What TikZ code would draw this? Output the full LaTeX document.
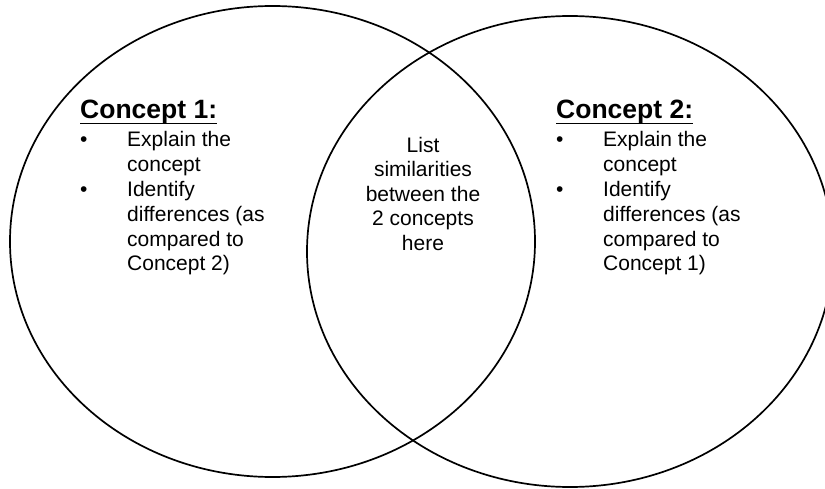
\documentclass[tikz,border=0pt]{standalone}
\usepackage{fontspec}
\setmainfont{Liberation Sans}
\newcommand{\blt}{\makebox[47pt][l]{\fontsize{21}{24.9}\selectfont•}}
\begin{document}
\begin{tikzpicture}[x=1pt,y=-1pt,
  circ/.style={line width=1.7pt},
  body/.style={anchor=base west,inner sep=0pt,align=left,font=\fontsize{21}{24.9}\selectfont},
  mid/.style={anchor=base,inner sep=0pt,align=center,font=\fontsize{21}{24.6}\selectfont},
  head/.style={anchor=base west,inner sep=0pt,font=\fontsize{26.5}{30}\selectfont\bfseries},
  uline/.style={line width=1.5pt}]
\useasboundingbox (0,0) rectangle (825,489);
\clip (0,0) rectangle (825,489);
\fill[white] (0,0) rectangle (825,489);
\draw[circ] (272.5,241.5) ellipse [x radius=262.5pt, y radius=235.5pt];
\draw[circ] (570,251.5) ellipse [x radius=263pt, y radius=235.5pt];
% left
\node[head] (h1) at (80,119) {Concept 1:};
\draw[uline] ([yshift=-4.5pt]h1.base west) -- ([yshift=-4.5pt]h1.base east);
\node[body] (l1) at (80,271) {\blt Explain the\\
\hspace*{47pt}concept\\
\blt Identify\\
\hspace*{47pt}differences (as\\
\hspace*{47pt}compared to\\
\hspace*{47pt}Concept 2)};
% right
\node[head] (h2) at (556,119) {Concept 2:};
\draw[uline] ([yshift=-4.5pt]h2.base west) -- ([yshift=-4.5pt]h2.base east);
\node[body] (r1) at (556,271) {\blt Explain the\\
\hspace*{47pt}concept\\
\blt Identify\\
\hspace*{47pt}differences (as\\
\hspace*{47pt}compared to\\
\hspace*{47pt}Concept 1)};
% middle
\node[mid] (m) at (423,250.4) {List\\similarities\\between the\\2 concepts\\here};
\end{tikzpicture}
\end{document}
